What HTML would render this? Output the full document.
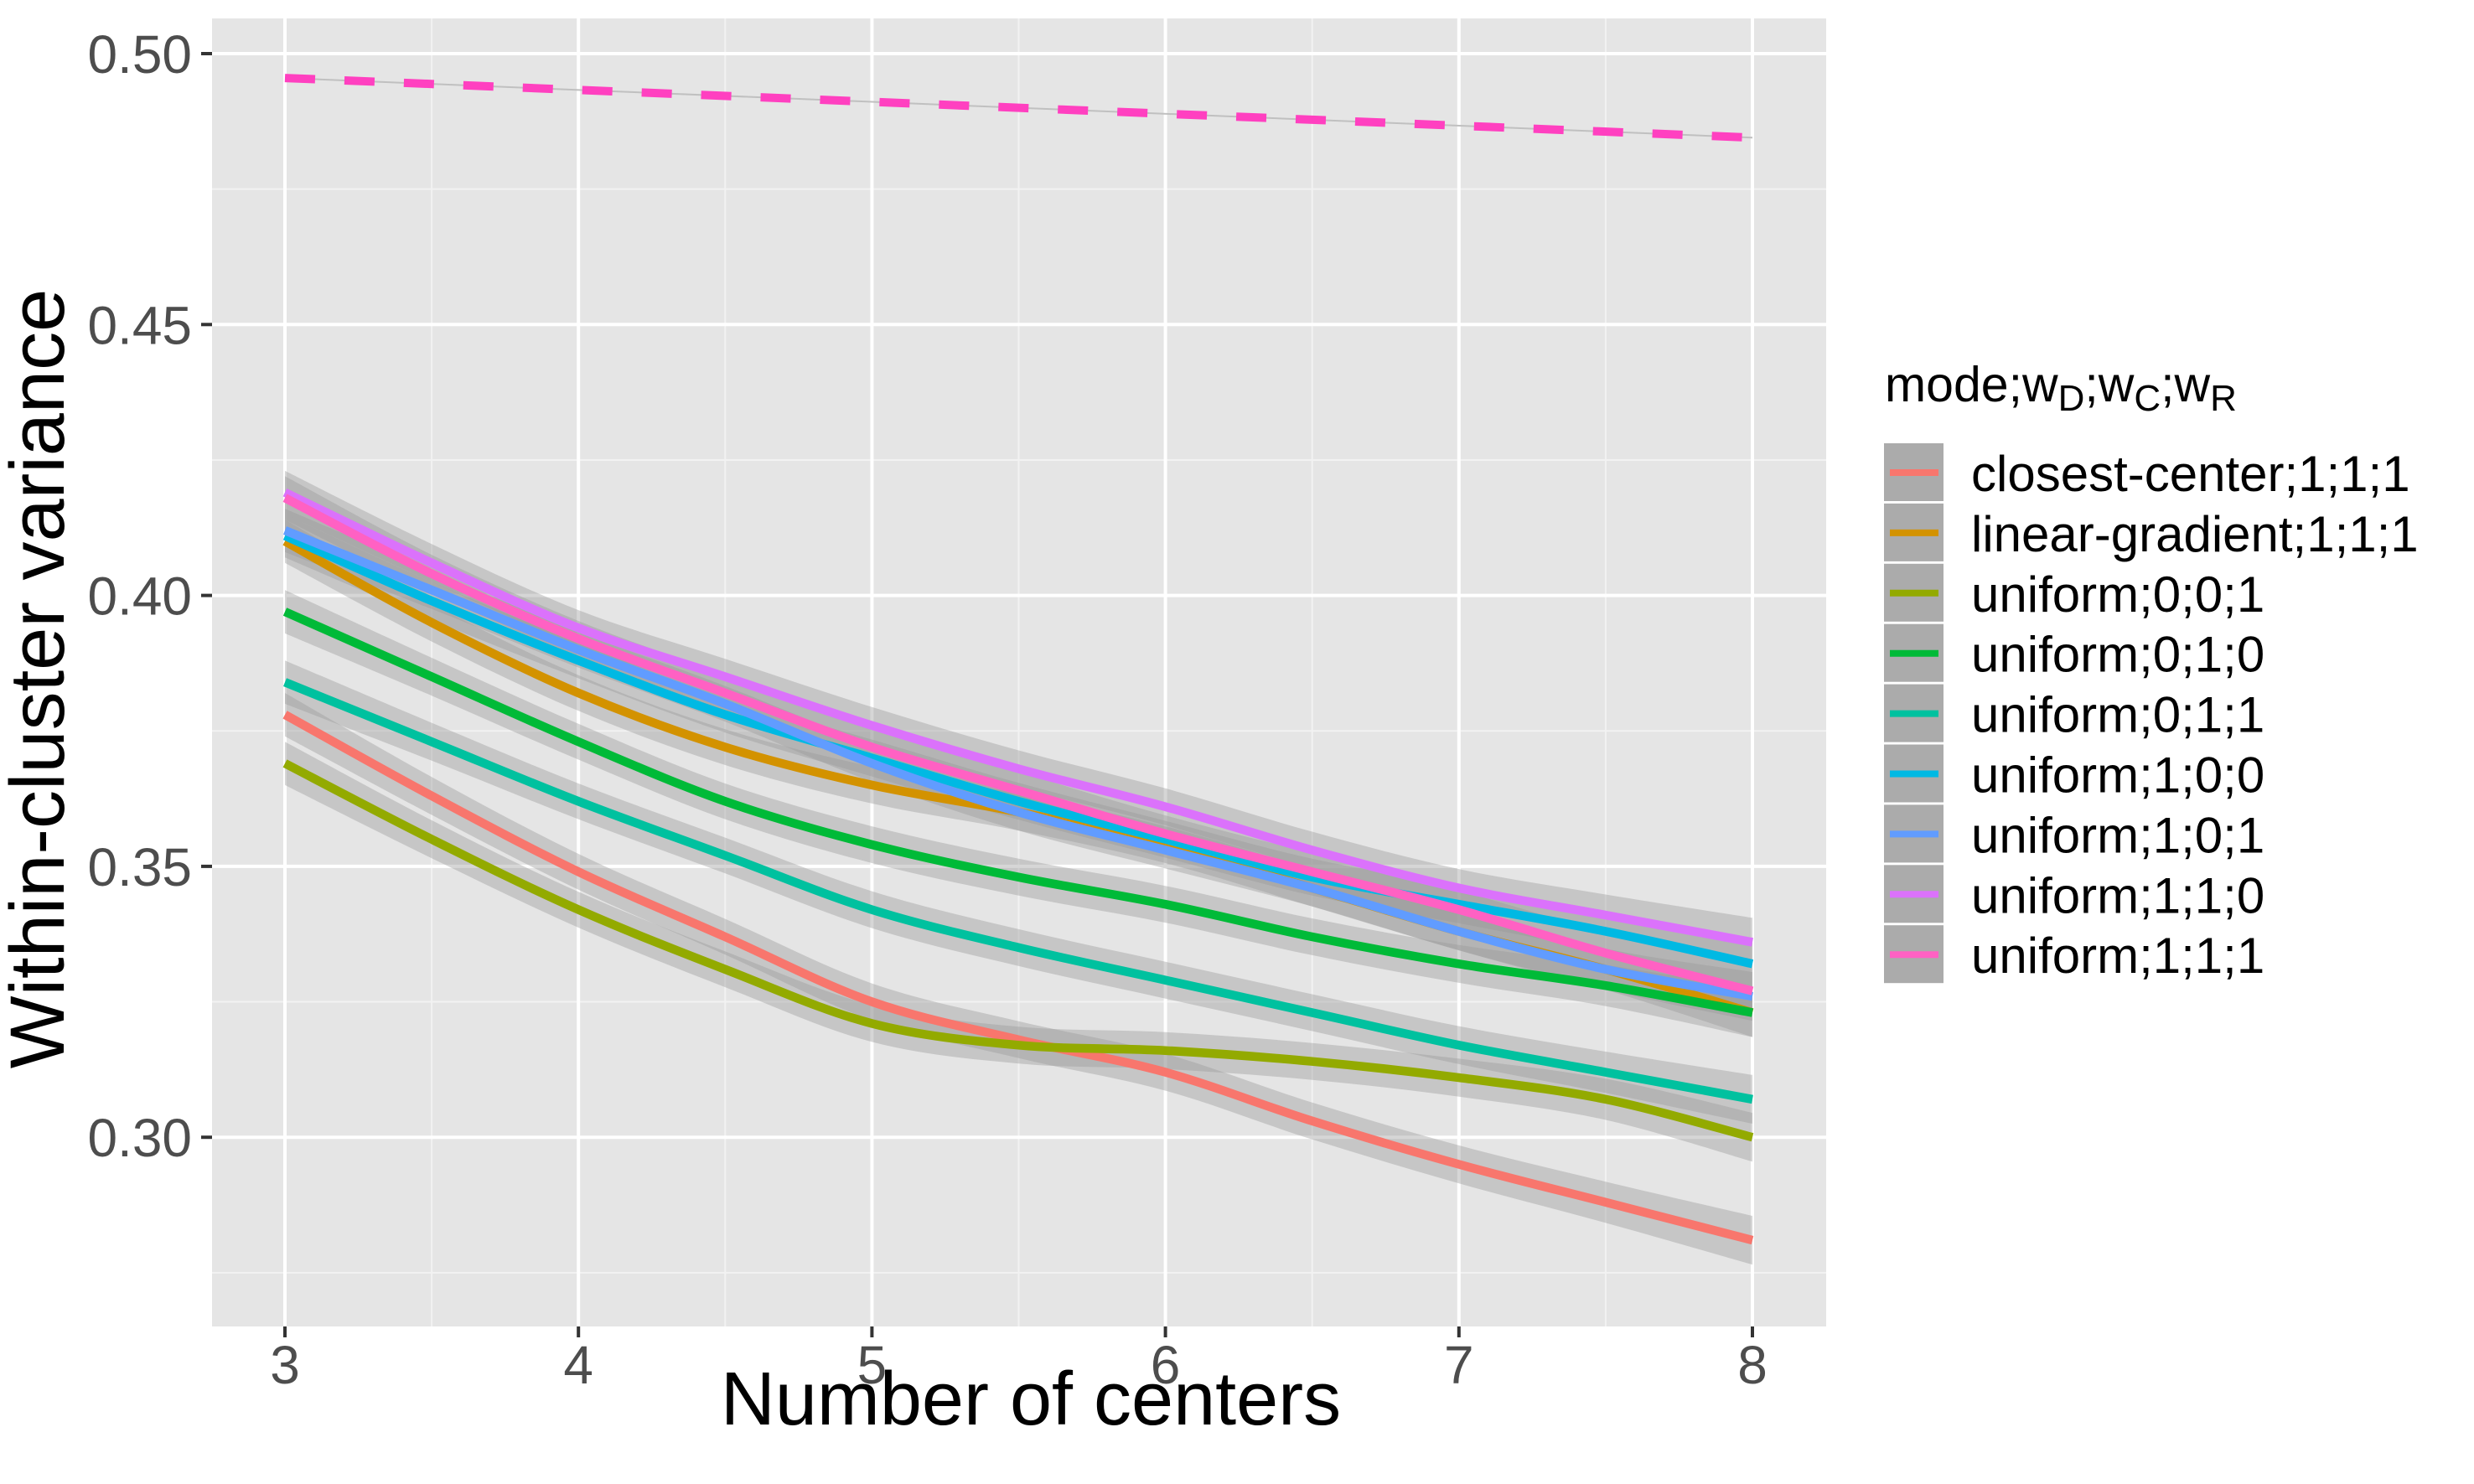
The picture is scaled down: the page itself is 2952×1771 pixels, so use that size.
<!DOCTYPE html>
<html><head><meta charset="utf-8">
<style>
html,body{margin:0;padding:0;background:#fff;}
svg{display:block;font-family:"Liberation Sans",Arial,sans-serif;}
</style></head>
<body>
<svg id="chart" width="2952" height="1771" viewBox="0 0 2952 1771" xmlns="http://www.w3.org/2000/svg">
<rect x="253" y="22" width="1926" height="1561" fill="#e5e5e5"/>
<g id="grid"></g>
<g id="ribbons"></g>
<g id="lines"></g>
<g id="axes"></g>
<text x="1230" y="1700" font-size="90" text-anchor="middle" fill="#000">Number of centers</text>
<text transform="translate(76,810) rotate(-90)" font-size="92" text-anchor="middle" fill="#000">Within-cluster variance</text>
<g id="legend">
<text x="2249" y="479" font-size="59" fill="#000">mode;w<tspan font-size="44" dy="11">D</tspan><tspan dy="-11">;w</tspan><tspan font-size="44" dy="11">C</tspan><tspan dy="-11">;w</tspan><tspan font-size="44" dy="11">R</tspan></text>
</g>
</svg>
<script>
const xValues = [3,3.5,4,4.5,5,5.5,6,6.5,7,7.5,8];
const xTicks = [3,4,5,6,7,8];
const yTicks = [0.30,0.35,0.40,0.45,0.50];
const yMinorTicks = [0.275,0.325,0.375,0.425,0.475];
const seriesNames = ["closest-center;1;1;1","linear-gradient;1;1;1","uniform;0;0;1","uniform;0;1;0","uniform;0;1;1","uniform;1;0;0","uniform;1;0;1","uniform;1;1;0","uniform;1;1;1"];
const seriesColors = ["#F8766D","#D39200","#93AA00","#00BA38","#00C19F","#00B9E3","#619CFF","#DB72FB","#FF61C3"];
const closestCenter = [0.378,0.363,0.349,0.337,0.325,0.318,0.312,0.303,0.295,0.288,0.281];
const linearGradient = [0.410,0.395,0.382,0.372,0.365,0.360,0.354,0.346,0.338,0.331,0.323];
const uniform001 = [0.369,0.355,0.342,0.331,0.321,0.317,0.316,0.314,0.311,0.307,0.300];
const uniform010 = [0.397,0.385,0.373,0.362,0.354,0.348,0.343,0.337,0.332,0.328,0.323];
const uniform011 = [0.384,0.373,0.362,0.352,0.342,0.335,0.329,0.323,0.317,0.312,0.307];
const uniform100 = [0.411,0.399,0.388,0.378,0.370,0.362,0.355,0.348,0.343,0.338,0.332];
const uniform101 = [0.412,0.401,0.390,0.380,0.369,0.360,0.353,0.346,0.338,0.331,0.326];
const uniform110 = [0.419,0.406,0.394,0.385,0.376,0.368,0.361,0.353,0.346,0.341,0.336];
const uniform111 = [0.418,0.404,0.392,0.382,0.372,0.364,0.356,0.349,0.342,0.334,0.327];
const bandHalfWidth = [0.0040,0.0035,0.0033,0.0033,0.0034,0.0034,0.0034,0.0034,0.0035,0.0038,0.0045];
const baselineX = [3,8];
const baselineY = [0.4955,0.4845];
const seriesValues = [closestCenter,linearGradient,uniform001,uniform010,uniform011,uniform100,uniform101,uniform110,uniform111];

const NS="http://www.w3.org/2000/svg";
function xs(v){return 340+(v-3)*350.2;}
function ys(v){return 64+(0.5-v)*6466;}
function mk(tag,attrs,parent){const e=document.createElementNS(NS,tag);for(const k in attrs)e.setAttribute(k,attrs[k]);parent.appendChild(e);return e;}
function smooth(pts){
  let d="M"+pts[0][0].toFixed(1)+","+pts[0][1].toFixed(1);
  for(let i=0;i<pts.length-1;i++){
    const p0=pts[Math.max(0,i-1)],p1=pts[i],p2=pts[i+1],p3=pts[Math.min(pts.length-1,i+2)];
    const c1=[p1[0]+(p2[0]-p0[0])/6,p1[1]+(p2[1]-p0[1])/6];
    const c2=[p2[0]-(p3[0]-p1[0])/6,p2[1]-(p3[1]-p1[1])/6];
    d+=" C"+c1[0].toFixed(1)+","+c1[1].toFixed(1)+" "+c2[0].toFixed(1)+","+c2[1].toFixed(1)+" "+p2[0].toFixed(1)+","+p2[1].toFixed(1);
  }
  return d;
}
const grid=document.getElementById('grid');
yMinorTicks.forEach(v=>{const l=mk('line',{x1:253,x2:2179,y1:ys(v),y2:ys(v),stroke:'#f2f2f2','stroke-width':2},grid);

});
xTicks.slice(0,-1).forEach(v=>{const l=mk('line',{x1:xs(v+0.5),x2:xs(v+0.5),y1:22,y2:1583,stroke:'#f2f2f2','stroke-width':2},grid);

});
yTicks.forEach(v=>{const l=mk('line',{x1:253,x2:2179,y1:ys(v),y2:ys(v),stroke:'#fff','stroke-width':4},grid);

});
xTicks.forEach(v=>{const l=mk('line',{x1:xs(v),x2:xs(v),y1:22,y2:1583,stroke:'#fff','stroke-width':4},grid);

});

const axes=document.getElementById('axes');
yTicks.forEach(v=>{
  const t=mk('line',{x1:240,x2:253,y1:ys(v),y2:ys(v),stroke:'#333','stroke-width':4},axes);
  
  
  const tx=mk('text',{x:229,y:ys(v)+23,'font-size':64,'text-anchor':'end',fill:'#4d4d4d'},axes);
  tx.textContent=v.toFixed(2);
  
  
});
xTicks.forEach(v=>{
  const t=mk('line',{x1:xs(v),x2:xs(v),y1:1583,y2:1596,stroke:'#333','stroke-width':4},axes);
  
  
  const tx=mk('text',{x:xs(v),y:1651,'font-size':64,'text-anchor':'middle',fill:'#4d4d4d'},axes);
  tx.textContent=String(v);
  
  
});

const rib=document.getElementById('ribbons'), lines=document.getElementById('lines');
seriesValues.forEach((vals,si)=>{
  const up=xValues.map((x,i)=>[xs(x),ys(vals[i]+bandHalfWidth[i])]);
  const lo=xValues.map((x,i)=>[xs(x),ys(vals[i]-bandHalfWidth[i])]).reverse();
  const dUp=smooth(up), dLo=smooth(lo).replace(/^M/,'L');
  const r=mk('path',{d:dUp+" "+dLo+" Z",fill:'#999999','fill-opacity':0.4},rib);
  
  
});
seriesValues.forEach((vals,si)=>{
  const pts=xValues.map((x,i)=>[xs(x),ys(vals[i])]);
  const p=mk('path',{d:smooth(pts),fill:'none',stroke:seriesColors[si],'stroke-width':10.5},lines);
  
  
});
const bl=mk('line',{x1:xs(baselineX[0]),y1:ys(baselineY[0]),x2:xs(baselineX[1]),y2:ys(baselineY[1]),stroke:'#c0c0c0','stroke-width':2},lines);


const bd=mk('line',{x1:xs(baselineX[0]),y1:ys(baselineY[0]),x2:xs(baselineX[1]),y2:ys(baselineY[1]),stroke:'#FF40C0','stroke-width':10,'stroke-dasharray':'36 35'},lines);



const leg=document.getElementById('legend');
seriesNames.forEach((n,i)=>{
  const y0=529+i*71.9;
  const k=mk('rect',{x:2248,y:y0,width:71,height:69,fill:'#ababab'},leg);
  
  
  const l=mk('line',{x1:2255,x2:2313,y1:y0+35,y2:y0+35,stroke:seriesColors[i],'stroke-width':8},leg);
  
  
  const t=mk('text',{x:2352,y:y0+57,'font-size':60,fill:'#000'},leg);
  t.textContent=n;
  
  
});
</script>
</body></html>
